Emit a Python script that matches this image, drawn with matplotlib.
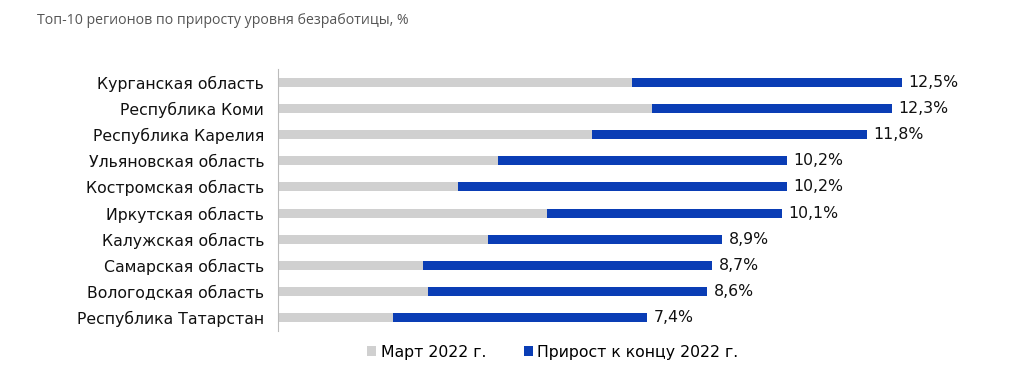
import matplotlib.pyplot as plt

regions = [
    "Курганская область",
    "Республика Коми",
    "Республика Карелия",
    "Ульяновская область",
    "Костромская область",
    "Иркутская область",
    "Калужская область",
    "Самарская область",
    "Вологодская область",
    "Республика Татарстан",
]
march = [7.1, 7.5, 6.3, 4.4, 3.6, 5.4, 4.2, 2.9, 3.0, 2.3]
end_2022 = [12.5, 12.3, 11.8, 10.2, 10.2, 10.1, 8.9, 8.7, 8.6, 7.4]
growth = [e - m for e, m in zip(end_2022, march)]

gray = "#d0d0d0"
blue = "#0a3db5"

fig = plt.figure(figsize=(10.24, 3.76), dpi=100)
ax = fig.add_axes([278 / 1024, 1 - 331 / 376, (1000 - 278) / 1024, (331 - 69) / 376])

pos = list(range(len(regions)))
ax.barh(pos, march, height=0.35, color=gray, label="Март 2022 г.")
ax.barh(pos, growth, left=march, height=0.35, color=blue, label="Прирост к концу 2022 г.")

for p, v in zip(pos, end_2022):
    ax.text(v + 0.13, p, f"{v:.1f}%".replace(".", ","), va="center", ha="left",
            fontsize=11.3, color="#111111")

ax.set_xlim(0, (1000 - 278) / 49.9)
ax.set_ylim(len(regions) - 0.5, -0.5)
ax.set_yticks(pos)
ax.set_yticklabels(regions, fontsize=11.3, color="#111111")
ax.tick_params(axis="y", length=0, pad=10)
ax.set_xticks([])
for side in ["top", "right", "bottom"]:
    ax.spines[side].set_visible(False)
ax.spines["left"].set_color("#bbbbbb")
ax.spines["left"].set_linewidth(0.8)

fig.text(37 / 1024, 1 - 20 / 376, "Топ-10 регионов по приросту уровня безработицы, %",
         fontsize=10.2, color="#555555", family="Open Sans", va="center")

fig.legend(loc="center", bbox_to_anchor=(553 / 1024, 1 - 352 / 376), ncol=2,
           frameon=False, fontsize=11.3, handlelength=0.55, handleheight=0.55,
           handletextpad=0.3, columnspacing=2.4)

fig.savefig("out.png", dpi=100)
